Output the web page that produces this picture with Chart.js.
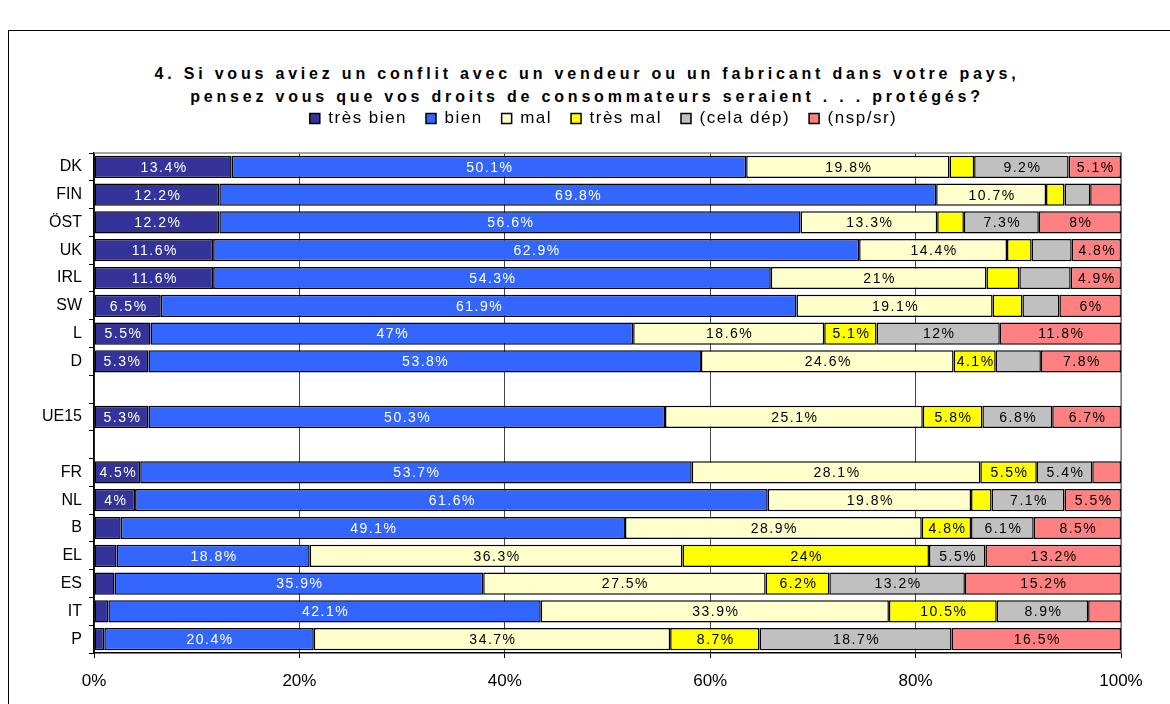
<!DOCTYPE html>
<html>
<head>
<meta charset="utf-8">
<script src="https://cdn.jsdelivr.net/npm/chart.js@4.4.1/dist/chart.umd.min.js"></script>
<style>
    body { margin: 0; background: #fff; width: 1170px; height: 704px; overflow: hidden; position: relative; font-family: "Liberation Sans", Arial, sans-serif; }
    #frame { position: absolute; left: 8px; top: 30px; width: 1200px; height: 700px; border: 1.5px solid #000; }
    #title { position: absolute; left: 2px; top: 62px; width: 1170px; text-align: center; font-weight: bold; font-size: 16px; line-height: 23px; letter-spacing: 3.8px; color: #000; }
    #wrap { position: absolute; left: 0; top: 0; width: 1170px; height: 704px; }
</style>
</head>
<body>
<div id="frame"></div>
<div id="title">4. Si vous aviez un conflit avec un vendeur ou un fabricant dans votre pays,<br>pensez vous que vos droits de consommateurs seraient . . . protégés?</div>
<div id="wrap"><canvas id="chart"></canvas></div>
<script>
// Data (blank rows separate UE15 from the countries)
const countries = ['DK', 'FIN', 'ÖST', 'UK', 'IRL', 'SW', 'L', 'D', '', 'UE15', '', 'FR', 'NL', 'B', 'EL', 'ES', 'IT', 'P'];
const tresBien = [13.4, 12.2, 12.2, 11.6, 11.6, 6.5, 5.5, 5.3, null, 5.3, null, 4.5, 4, 2.6, 2.2, 2.0, 1.4, 1.0];
const bien     = [50.1, 69.8, 56.6, 62.9, 54.3, 61.9, 47, 53.8, null, 50.3, null, 53.7, 61.6, 49.1, 18.8, 35.9, 42.1, 20.4];
const mal      = [19.8, 10.7, 13.3, 14.4, 21, 19.1, 18.6, 24.6, null, 25.1, null, 28.1, 19.8, 28.9, 36.3, 27.5, 33.9, 34.7];
const tresMal  = [2.4, 1.8, 2.6, 2.4, 3.2, 2.9, 5.1, 4.1, null, 5.8, null, 5.5, 2.0, 4.8, 24, 6.2, 10.5, 8.7];
const celaDep  = [9.2, 2.5, 7.3, 3.9, 5.0, 3.6, 12, 4.4, null, 6.8, null, 5.4, 7.1, 6.1, 5.5, 13.2, 8.9, 18.7];
const nspSr    = [5.1, 3.0, 8, 4.8, 4.9, 6, 11.8, 7.8, null, 6.7, null, 2.8, 5.5, 8.5, 13.2, 15.2, 3.2, 16.5];
const xTicks = [0, 20, 40, 60, 80, 100];

// segments without a printed value in the original: [series, row]
const unlabeled = [
    [0, 13], [0, 14], [0, 15], [0, 16], [0, 17],
    [3, 0], [3, 1], [3, 2], [3, 3], [3, 4], [3, 5], [3, 12],
    [4, 1], [4, 3], [4, 4], [4, 5], [4, 7],
    [5, 1], [5, 11], [5, 16]
];

const FONT = '"Liberation Sans", Arial, sans-serif';

const series = [
    { label: 'très bien', data: tresBien, color: '#333399' },
    { label: 'bien', data: bien, color: '#3366FF' },
    { label: 'mal', data: mal, color: '#FFFFCC' },
    { label: 'très mal', data: tresMal, color: '#FFFF00' },
    { label: '(cela dép)', data: celaDep, color: '#C0C0C0' },
    { label: '(nsp/sr)', data: nspSr, color: '#FF8080' }
];

// spaced-out legend text, nudged right, with extra room below it
const legendTweak = {
    id: 'legendTweak',
    beforeLayout(chart) {
        const lg = chart.legend;
        if (!lg || lg._patched) return;
        const fit = lg.fit;
        const draw = lg.draw;
        lg.fit = function () {
            this.ctx.letterSpacing = '1.5px';
            fit.call(this);
            this.ctx.letterSpacing = '0px';
            this.height += 16;
        };
        lg.draw = function () {
            const c = this.ctx;
            c.save();
            c.letterSpacing = '1.5px';
            c.translate(38, 0);
            draw.apply(this, arguments);
            c.restore();
            c.letterSpacing = '0px';
        };
        lg._patched = true;
    }
};

// grey top/right border of the plot area
const plotFrame = {
    id: 'plotFrame',
    beforeDatasetsDraw(chart) {
        const { ctx, chartArea: a } = chart;
        ctx.save();
        ctx.strokeStyle = '#888';
        ctx.lineWidth = 1.5;
        ctx.beginPath();
        ctx.moveTo(a.left, a.top);
        ctx.lineTo(a.right, a.top);
        ctx.lineTo(a.right, a.bottom);
        ctx.stroke();
        ctx.restore();
    }
};

// values printed inside the segments
const segLabels = {
    id: 'segLabels',
    afterDatasetsDraw(chart) {
        const ctx = chart.ctx;
        ctx.save();
        ctx.font = '14px ' + FONT;
        ctx.letterSpacing = '1.5px';
        ctx.textAlign = 'center';
        ctx.textBaseline = 'middle';
        chart.data.datasets.forEach((ds, i) => {
            chart.getDatasetMeta(i).data.forEach((bar, j) => {
                const v = ds.data[j];
                if (v == null) return;
                if (unlabeled.some(u => u[0] === i && u[1] === j)) return;
                ctx.fillStyle = i < 2 ? '#fff' : '#000';
                ctx.fillText(v + '%', (bar.x + bar.base) / 2 + 1, bar.y + 1);
            });
        });
        ctx.restore();
    }
};

const ctx = document.getElementById('chart').getContext('2d');
new Chart(ctx, {
    type: 'bar',
    data: {
        labels: countries,
        datasets: series.map(s => ({
            label: s.label,
            data: s.data,
            backgroundColor: s.color,
            borderColor: '#000',
            borderWidth: 1.5,
            borderSkipped: false,
            barPercentage: 0.8,
            categoryPercentage: 1.0
        }))
    },
    options: {
        indexAxis: 'y',
        responsive: true,
        maintainAspectRatio: false,
        animation: false,
        layout: { padding: { left: 10, right: 49, top: 91, bottom: 8 } },
        plugins: {
            legend: {
                position: 'top',
                labels: { font: { family: FONT, size: 17 }, color: '#000', boxWidth: 10, boxHeight: 10, padding: 19 }
            },
            tooltip: { enabled: false }
        },
        scales: {
            x: {
                stacked: true,
                min: 0,
                max: 100,
                afterBuildTicks: s => { s.ticks = xTicks.map(v => ({ value: v })); },
                ticks: { callback: v => v + '%', font: { family: FONT, size: 17 }, color: '#000', padding: 13 },
                grid: { color: '#444', lineWidth: 1, tickLength: 5, tickColor: '#000' },
                border: { color: '#000', width: 1.5 },
                afterFit: s => { s.height = 43; }
            },
            y: {
                stacked: true,
                ticks: { font: { family: FONT, size: 16 }, color: '#000', padding: 7, autoSkip: false },
                grid: { drawOnChartArea: false, offset: true, tickLength: 5, color: '#000' },
                border: { color: '#000', width: 1.5 },
                afterFit: s => { s.width = 84; }
            }
        }
    },
    plugins: [legendTweak, plotFrame, segLabels]
});
</script>
</body>
</html>
